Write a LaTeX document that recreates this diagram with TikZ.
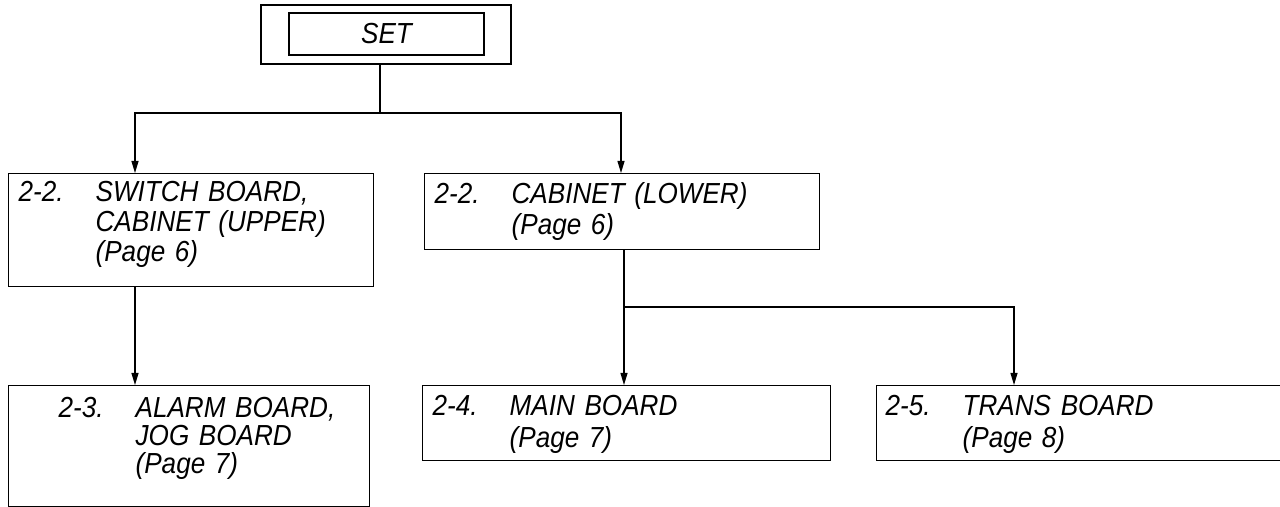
\documentclass[tikz,border=0pt]{standalone}
\usepackage{fontspec}
\setmainfont{Liberation Sans}[FakeStretch=0.9]
\usetikzlibrary{arrows.meta,positioning}

% section number, then the hanging lines of the title
\newcommand\boardentry[3][5pt]{\hspace*{#1}\makebox[38.5pt][l]{#2}\parbox[t]{160pt}{#3}}

\tikzset{
  >={Triangle[length=6pt,width=3.5pt]},
  board/.style={draw, line width=0.65pt, anchor=north west, inner sep=0pt,
    align=left, font=\fontsize{14.5}{15}\selectfont\itshape},
  leading/.style={font=\fontsize{14.5}{#1}\selectfont\itshape},
  link/.style={line width=0.55pt}
}

\begin{document}
\begin{tikzpicture}[x=0.5pt, y=-0.5pt]
  \useasboundingbox (0,0) rectangle (1280,507);

  % top level
  \node [draw, line width=0.65pt, minimum width=125pt, minimum height=29.5pt]
    (set) at (386,34.5) {};
  \node [draw, line width=0.65pt, minimum width=97.5pt, minimum height=21pt,
    font=\fontsize{14.5}{15}\selectfont\itshape] (setin) at (386.5,34) {SET};

  % second level
  \node [board, text width=182.5pt, text height=14pt, text depth=42.5pt]
    (sw) at (8,173)
    {\boardentry{2-2.}{SWITCH BOARD,\\CABINET (UPPER)\\(Page 6)}};
  \node [board, leading=15.5pt, text width=197.5pt, text height=15pt, text depth=23pt]
    (cl) at (424,173)
    {\boardentry{2-2.}{CABINET (LOWER)\\(Page 6)}};

  % third level
  \node [board, leading=14pt, text width=180.5pt, text height=16pt, text depth=44.5pt]
    (al) at (8,385)
    {\boardentry[25pt]{2-3.}{ALARM BOARD,\\JOG BOARD\\(Page 7)}};
  \node [board, leading=16pt, text width=204pt, text height=15pt, text depth=22.5pt]
    (mb) at (422,385)
    {\boardentry{2-4.}{MAIN BOARD\\(Page 7)}};
  \node [board, leading=16pt, text width=207pt, text height=15pt, text depth=22.5pt]
    (tb) at (876,385)
    {\boardentry[4.5pt]{2-5.}{TRANS BOARD\\(Page 8)}};

  % branch points and drop columns
  \coordinate (fork) at (380,113);
  \coordinate (fork2) at (624,307);
  \coordinate (col1) at (135,0);
  \coordinate (col2) at (621,0);
  \coordinate (col3) at (624,0);
  \coordinate (col4) at (1014,0);

  \draw [link] (set.south -| fork) -- (fork);
  \draw [link,->] (fork) -| (col1 |- sw.north);
  \draw [link,->] (fork) -| (col2 |- cl.north);
  \draw [link,->] (sw.south -| col1) -- (al.north -| col1);
  \draw [link] (cl.south -| col3) -- (fork2);
  \draw [link,->] (fork2) -- (mb.north -| col3);
  \draw [link,->] (fork2) -| (col4 |- tb.north);
\end{tikzpicture}
\end{document}
